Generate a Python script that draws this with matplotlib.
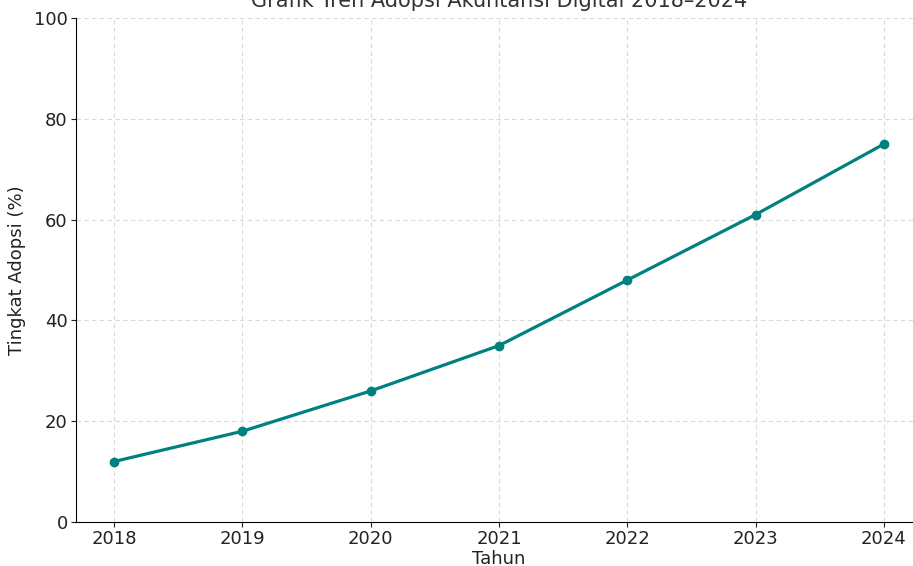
import matplotlib
matplotlib.use("Agg")
import matplotlib.pyplot as plt

years = [2018, 2019, 2020, 2021, 2022, 2023, 2024]
adoption = [12, 18, 26, 35, 48, 61, 75]

fig = plt.figure(figsize=(9.13, 5.66), dpi=100)
ax = fig.add_axes([75.5 / 913, 44 / 566, 847 / 913, 504 / 566])
ax.plot(years, adoption, color="teal", linewidth=2.3, marker="o", markersize=6)
ax.set_ylim(0, 100)
ax.set_xticks(years)
ax.set_yticks([0, 20, 40, 60, 80, 100])
ax.grid(True, linestyle=(0, (4, 3)), color="#d9d9d9", linewidth=0.8)
ax.spines["top"].set_visible(False)
ax.spines["right"].set_visible(False)
ax.tick_params(labelsize=13, colors="#222222", pad=2)
ax.set_xlabel("Tahun", fontsize=13, color="#222222", labelpad=2)
ax.set_ylabel("Tingkat Adopsi (%)", fontsize=13, color="#222222", labelpad=6)
ax.set_title("Grafik Tren Adopsi Akuntansi Digital 2018–2024", fontsize=15, color="#333333", pad=8)
fig.savefig("out.png", dpi=100)
